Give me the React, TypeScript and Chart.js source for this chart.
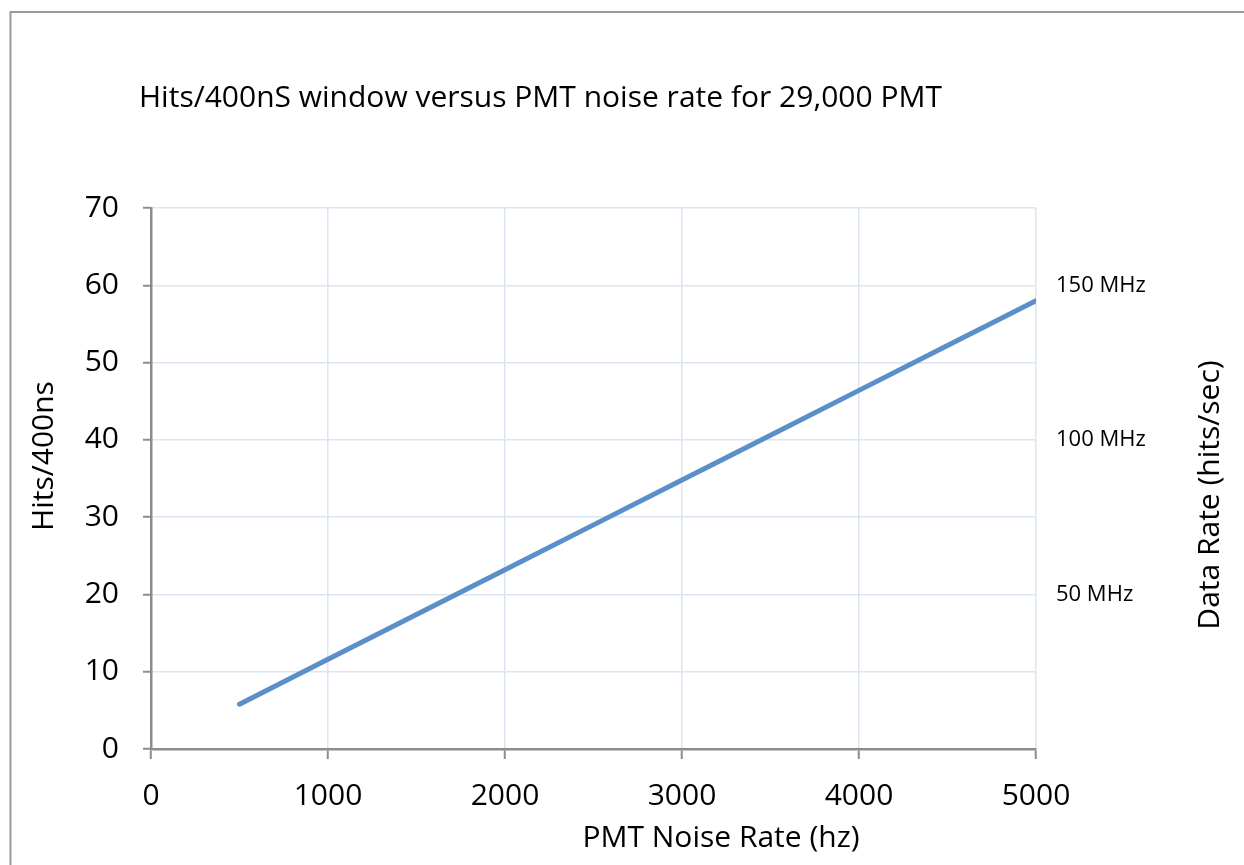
import React, { useEffect, useRef } from "react";
import { Chart, registerables } from "chart.js";

Chart.register(...registerables);

// ---- data ----
const noiseRates = [500, 1000, 1500, 2000, 2500, 3000, 3500, 4000, 4500, 5000];
const hitsPerWindow = [5.8, 11.6, 17.4, 23.2, 29.0, 34.8, 40.6, 46.4, 52.2, 58.0];
const rateTicks = [50, 100, 150]; // MHz
const rateTickLabels = ["50 MHz", "100 MHz", "150 MHz"];
const chartTitle = "Hits/400nS window versus PMT noise rate for 29,000 PMT";
const xTitle = "PMT Noise Rate (hz)";
const yTitle = "Hits/400ns";
const y2Title = "Data Rate (hits/sec)";

const FONT = "'Open Sans', sans-serif";
const AXIS_GRAY = "#8c8c8c";
const GRID = "#dce6f2";

const decorPlugin = {
  id: "decor",
  beforeDraw(chart: any) {
    const ctx = chart.ctx;
    ctx.save();
    ctx.strokeStyle = "#9a9a9a";
    ctx.lineWidth = 2;
    ctx.strokeRect(10.5, 12, 1400, 1000);
    ctx.restore();
  },
  afterDraw(chart: any) {
    const ctx = chart.ctx;
    ctx.save();
    ctx.fillStyle = "#000";
    ctx.font = `30px ${FONT}`;
    ctx.textBaseline = "alphabetic";
    ctx.textAlign = "left";
    ctx.fillText(chartTitle, 139, 107);
    ctx.textAlign = "center";
    ctx.fillText(xTitle, 721, 847);
    ctx.save();
    ctx.translate(53, 456);
    ctx.rotate(-Math.PI / 2);
    ctx.fillText(yTitle, 0, 0);
    ctx.restore();
    ctx.save();
    ctx.translate(1219, 495);
    ctx.rotate(-Math.PI / 2);
    ctx.fillText(y2Title, 0, 0);
    ctx.restore();
    ctx.restore();
  },
};

export default function App() {
  const ref = useRef<HTMLCanvasElement>(null);
  useEffect(() => {
    document.body.style.margin = "0";
    const chart = new Chart(ref.current as HTMLCanvasElement, {
      type: "line",
      data: {
        datasets: [
          {
            data: noiseRates.map((x, i) => ({ x, y: hitsPerWindow[i] })),
            borderColor: "#5b8fc9",
            borderWidth: 5,
            borderCapStyle: "round",
            pointRadius: 0,
            tension: 0,
          },
        ],
      },
      options: {
        responsive: false,
        animation: false,
        layout: { padding: { top: 208, left: 0, right: 0, bottom: 0 } },
        plugins: {
          legend: { display: false },
          title: { display: false },
          tooltip: { enabled: false },
        },
        scales: {
          x: {
            type: "linear",
            min: 0,
            max: 5000,
            ticks: {
              stepSize: 1000,
              color: "#000",
              font: { family: FONT, size: 30 },
              padding: 19,
              maxRotation: 0,
              autoSkip: false,
              callback: (v: any) => String(v),
            },
            grid: { color: GRID, lineWidth: 1.5, tickColor: AXIS_GRAY, tickLength: 10, tickWidth: 2 },
            border: { color: AXIS_GRAY, width: 2.5 },
            afterFit(scale: any) {
              scale.height = 116;
            },
          },
          y: {
            type: "linear",
            position: "left",
            min: 0,
            max: 70,
            ticks: {
              stepSize: 10,
              color: "#000",
              font: { family: FONT, size: 30 },
              padding: 24,
              callback: (v: any) => String(v),
            },
            grid: { color: GRID, lineWidth: 1.5, tickColor: AXIS_GRAY, tickLength: 8, tickWidth: 2 },
            border: { color: AXIS_GRAY, width: 2.5 },
            afterFit(scale: any) {
              scale.width = 151;
            },
          },
          y2: {
            type: "linear",
            position: "right",
            min: 0,
            max: 175,
            afterBuildTicks(scale: any) {
              scale.ticks = rateTicks.map((v) => ({ value: v }));
            },
            ticks: {
              color: "#000",
              font: { family: FONT, size: 22 },
              padding: 12,
              callback: (_v: any, i: number) => rateTickLabels[i],
            },
            grid: { display: false, drawOnChartArea: false },
            border: { display: false },
            afterFit(scale: any) {
              scale.width = 208;
            },
          },
        },
      },
      plugins: [decorPlugin],
    } as any);
    return () => chart.destroy();
  }, []);
  return (
    <div style={{ width: 1244, height: 865, position: "relative", background: "#fff" }}>
      <canvas ref={ref} width={1244} height={865} style={{ display: "block" }} />
    </div>
  );
}
